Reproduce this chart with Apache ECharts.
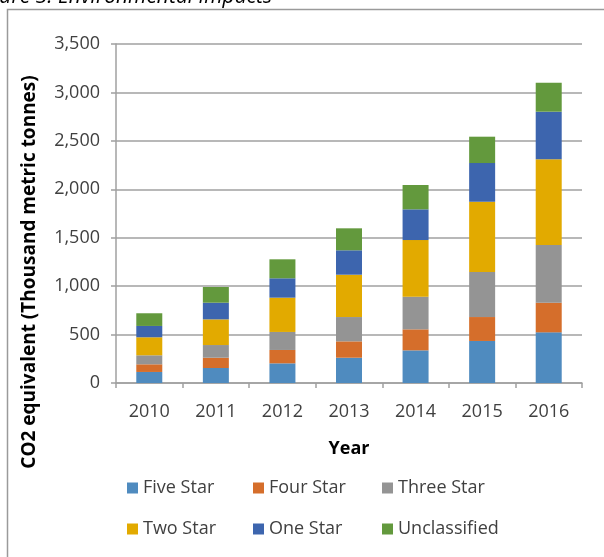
<!DOCTYPE html>
<html>
<head>
<meta charset="utf-8">
<script src="https://cdn.jsdelivr.net/npm/echarts@6/dist/echarts.min.js"></script>
<style>
  html, body { margin: 0; padding: 0; background: #ffffff; }
  #chart { width: 604px; height: 557px; }
</style>
</head>
<body>
<div id="chart"></div>
<script>
// Years on the category axis
var years = ['2010', '2011', '2012', '2013', '2014', '2015', '2016'];

// CO2 equivalent (thousand metric tonnes) by hotel classification
var fiveStar     = [114, 155, 203, 261, 337, 434, 523];
var fourStar     = [79, 106, 138, 169, 217, 247, 306];
var threeStar    = [93, 131, 186, 251, 337, 465, 596];
var twoStar      = [186, 265, 354, 437, 585, 726, 884];
var oneStar      = [117, 172, 200, 252, 317, 399, 492];
var unclassified = [131, 162, 196, 227, 251, 272, 299];

// Value-axis ticks
var yTicks = [0, 500, 1000, 1500, 2000, 2500, 3000, 3500];

var seriesNames  = ['Five Star', 'Four Star', 'Three Star', 'Two Star', 'One Star', 'Unclassified'];
var seriesValues = [fiveStar, fourStar, threeStar, twoStar, oneStar, unclassified];
var seriesColors = ['#4f8bbf', '#d56e2b', '#949494', '#e2aa00', '#3d65ae', '#63993d'];

var FONT = '"Open Sans", "Liberation Sans", sans-serif';
var TEXT = '#404040';
var LINE = '#a0a0a0';

var chart = echarts.init(document.getElementById('chart'), null, { renderer: 'canvas' });

// Legend laid out as a 3 x 2 grid
var legendCols = [127, 253, 382];
var legendRows = [486, 527];
var legends = seriesNames.map(function (name, i) {
  return {
    data: [name],
    left: legendCols[i % 3],
    top: legendRows[Math.floor(i / 3)] - 7,
    padding: 0,
    itemWidth: 11,
    itemHeight: 11,
    icon: 'rect',
    selectedMode: false,
    textStyle: { fontFamily: FONT, fontSize: 18, color: TEXT }
  };
});

var option = {
  animation: false,
  backgroundColor: '#ffffff',
  grid: { left: 116, right: 22, top: 44, bottom: 174, containLabel: false },
  legend: legends,
  graphic: [
    {
      type: 'text',
      right: 332,
      top: -13,
      style: {
        text: 'Figure 3: Environmental Impacts',
        font: 'italic 21px ' + FONT,
        fill: '#000000'
      }
    },
    {
      type: 'rect',
      shape: { x: 7.5, y: 9.5, width: 700, height: 700 },
      style: { fill: 'none', stroke: '#9a9a9a', lineWidth: 1.5 }
    },
    {
      type: 'text',
      x: 30,
      y: 272,
      rotation: Math.PI / 2,
      style: {
        text: 'CO2 equivalent (Thousand metric tonnes)',
        font: 'bold 19px ' + FONT,
        fill: '#000000',
        align: 'center',
        verticalAlign: 'middle'
      }
    }
  ],
  xAxis: {
    type: 'category',
    data: years,
    boundaryGap: true,
    name: 'Year',
    nameLocation: 'middle',
    nameGap: 57,
    nameTextStyle: { fontFamily: FONT, fontSize: 18, fontWeight: 'bold', color: '#000000' },
    axisLine: { lineStyle: { color: LINE, width: 1.5 } },
    axisTick: { show: true, length: 5, alignWithLabel: false, lineStyle: { color: LINE, width: 1.5 } },
    axisLabel: { margin: 20, fontFamily: FONT, fontSize: 18, color: TEXT },
    splitLine: { show: false }
  },
  yAxis: {
    type: 'value',
    min: yTicks[0],
    max: yTicks[yTicks.length - 1],
    interval: yTicks[1] - yTicks[0],
    axisLine: { show: true, lineStyle: { color: LINE, width: 1.5 } },
    axisTick: { show: true, length: 5, lineStyle: { color: LINE, width: 1.5 } },
    axisLabel: {
      margin: 16,
      fontFamily: FONT,
      fontSize: 18,
      color: TEXT,
      formatter: function (v) { return v.toLocaleString('en-US'); }
    },
    splitLine: { show: true, lineStyle: { color: LINE, width: 1.5 } }
  },
  series: seriesNames.map(function (name, i) {
    return {
      name: name,
      type: 'bar',
      stack: 'total',
      barWidth: 26,
      data: seriesValues[i],
      itemStyle: { color: seriesColors[i] },
      emphasis: { disabled: true }
    };
  })
};

chart.setOption(option);
</script>
</body>
</html>
